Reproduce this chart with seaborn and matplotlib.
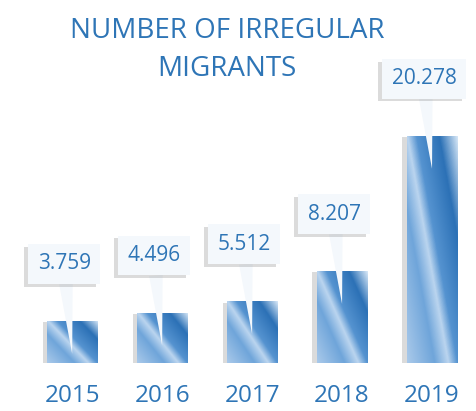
import numpy as np
import matplotlib
matplotlib.use("Agg")
import matplotlib.pyplot as plt
import matplotlib.patheffects as pe
from matplotlib.colors import LinearSegmentedColormap
import seaborn as sns

# Data
years = ["2015", "2016", "2017", "2018", "2019"]
migrants = [3759, 4496, 5512, 8207, 20278]
title = "NUMBER OF IRREGULAR\nMIGRANTS"

blue = "#2E75B6"
box_fc = "#F4F8FC"

sns.set_style("white")
plt.rcParams["font.family"] = ["Open Sans", "DejaVu Sans"]

fig = plt.figure(figsize=(4.77, 4.11), dpi=100)
ax = fig.add_axes([0.057, 0.117, 0.943, 0.883])

sns.barplot(x=years, y=migrants, color=blue, width=0.565, ax=ax)

# gradient fill for each bar, clipped to the bar shape
grad_cmap = LinearSegmentedColormap.from_list("bar", [
    (0.0, "#A9C9EA"), (0.3, "#6FA5DA"), (0.45, "#BBD5EF"),
    (0.55, "#5593D0"), (0.8, "#2C71B6"), (1.0, "#D5E6F6")])
yy, xx = np.mgrid[0:1:200j, 0:1:60j]
u = 0.55 * xx + 0.45 * yy
for bar in ax.patches:
    x0, y0 = bar.get_x(), bar.get_y()
    w, h = bar.get_width(), bar.get_height()
    bar.set_facecolor("none")
    bar.set_edgecolor("none")
    shadow = plt.Rectangle((x0, y0), w, h, facecolor="none", edgecolor="none")
    shadow.set_path_effects([pe.SimplePatchShadow(offset=(-3, -1), shadow_rgbFace="#999999", alpha=0.35)])
    ax.add_patch(shadow)
    im = ax.imshow(u, extent=[x0, x0 + w, y0 + h, y0], aspect="auto",
                   cmap=grad_cmap, vmin=0, vmax=1, zorder=2)
    im.set_clip_path(bar)
ax.set_xlim(-0.5, 4.5)
ax.set_ylim(0, 32400)

# callout labels
for i, v in enumerate(migrants):
    label = f"{v:,}".replace(",", ".")
    ann = ax.annotate(label, xy=(i, v - 2950), xytext=(-8, 90),
                      textcoords="offset pixels", ha="center", va="center",
                      fontsize=15, color=blue, zorder=5,
                      bbox=dict(boxstyle="square,pad=0.45", fc=box_fc, ec="none"),
                      arrowprops=dict(arrowstyle="wedge,tail_width=0.65", fc=box_fc,
                                      ec="none", shrinkA=0, shrinkB=0))
    shade = [pe.SimplePatchShadow(offset=(-3, -2), shadow_rgbFace="#888888", alpha=0.3), pe.Normal()]
    ann.get_bbox_patch().set_path_effects(shade)

sns.despine(ax=ax, left=True, bottom=True)
ax.set_yticks([])
ax.tick_params(axis="x", length=0, pad=15, labelsize=17.5, labelcolor=blue)
ax.set_xlabel("")
ax.set_ylabel("")
ax.patch.set_alpha(0)

fig.text(0.476, 0.878, title, ha="center", va="center", fontsize=20,
         color=blue, linespacing=1.45)

fig.savefig("out.png", dpi=100)
